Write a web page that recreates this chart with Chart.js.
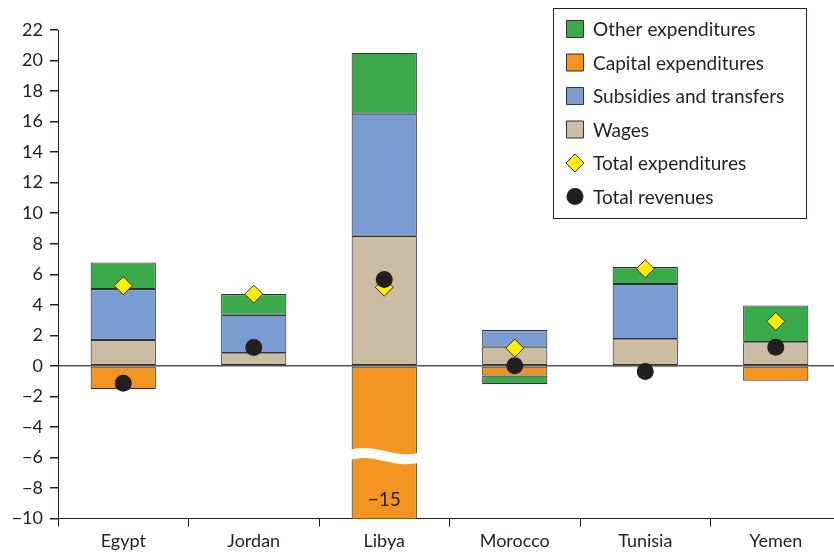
<!DOCTYPE html>
<html>
<head>
<meta charset="utf-8">
<script src="https://cdn.jsdelivr.net/npm/chart.js@4/dist/chart.umd.min.js"></script>
<style>
  html, body { margin: 0; padding: 0; background: #fff; overflow: hidden; }
  #wrap { width: 834px; height: 553px; overflow: hidden; }
</style>
</head>
<body>
<div id="wrap"><canvas id="fiscalChart" width="851" height="553"></canvas></div>
<script>
const categories = ["Egypt", "Jordan", "Libya", "Morocco", "Tunisia", "Yemen"];
const wages = [1.7, 0.83, 8.52, 1.25, 1.75, 1.55];
const subsidies = [3.33, 2.51, 8.0, 1.09, 3.61, null];
const capital = [-1.53, null, -15, -0.64, -0.1, -0.98];
const other = [1.74, 1.36, 3.98, -0.56, 1.11, 2.41];
const totalExpenditures = [5.25, 4.7, 5.15, 1.16, 6.36, 2.91];
const totalRevenues = [-1.14, 1.2, 5.66, 0.0, -0.37, 1.22];
const yTicks = [-10, -8, -6, -4, -2, 0, 2, 4, 6, 8, 10, 12, 14, 16, 18, 20, 22];

const textColor = "#231f20";
const font = "Lato";
const minus = v => String(v).replace("-", "\u2212");

// white wave across the truncated Libya bar, plus its real value
const breakValue = -5.9;
const axisBreak = {
    id: "axisBreak",
    afterDatasetsDraw(chart) {
        const ds = 2; // capital expenditures
        const i = capital.findIndex(v => v !== null && v < chart.scales.y.min);
        if (i < 0) return;
        const bar = chart.getDatasetMeta(ds).data[i];
        const { ctx } = chart;
        const y = chart.scales.y;
        const left = bar.x - bar.width / 2 - 2;
        const right = bar.x + bar.width / 2 + 2;
        const w = right - left;
        const c = y.getPixelForValue(breakValue);
        ctx.save();
        ctx.beginPath();
        ctx.rect(chart.chartArea.left, chart.chartArea.top, chart.chartArea.width, chart.chartArea.height);
        ctx.clip();
        ctx.strokeStyle = "#fff";
        ctx.lineWidth = 10;
        ctx.beginPath();
        ctx.moveTo(left, c - 1);
        ctx.bezierCurveTo(left + w * 0.4, c - 8, left + w * 0.6, c + 8, right, c + 2);
        ctx.stroke();
        ctx.fillStyle = textColor;
        ctx.font = "19px " + font;
        ctx.textAlign = "center";
        ctx.textBaseline = "middle";
        ctx.fillText(minus(capital[i]), bar.x, y.getPixelForValue(-8.8));
        ctx.restore();
    }
};

const legendOrder = [3, 2, 1, 0, 4, 5];
const boxLegend = {
    id: "boxLegend",
    afterDraw(chart) {
        const { ctx } = chart;
        ctx.save();
        ctx.fillStyle = "#fff";
        ctx.fillRect(553.5, 8.5, 253, 210);
        ctx.strokeStyle = textColor;
        ctx.lineWidth = 1;
        ctx.strokeRect(553.5, 8.5, 253, 210);
        ctx.font = "19px " + font;
        ctx.textBaseline = "middle";
        legendOrder.forEach((d, k) => {
            const ds = chart.data.datasets[d];
            const cy = 29 + k * 33.5;
            const cx = 575;
            ctx.fillStyle = ds.backgroundColor;
            ctx.strokeStyle = "#333";
            ctx.lineWidth = 1;
            ctx.beginPath();
            if (ds.pointStyle === "rectRot") {
                ctx.moveTo(cx, cy - 9);
                ctx.lineTo(cx + 9, cy);
                ctx.lineTo(cx, cy + 9);
                ctx.lineTo(cx - 9, cy);
                ctx.closePath();
                ctx.fill();
                ctx.stroke();
            } else if (ds.pointStyle === "circle") {
                ctx.arc(cx, cy, 8.5, 0, Math.PI * 2);
                ctx.fill();
            } else {
                ctx.rect(cx - 8.5, cy - 8.5, 17, 17);
                ctx.fill();
                ctx.stroke();
            }
            ctx.fillStyle = textColor;
            ctx.fillText(ds.label, 593, cy + 1);
        });
        ctx.restore();
    }
};

const barBase = {
    type: "bar",
    stack: "spend",
    order: 2,
    borderWidth: 1.1,
    borderColor: "#333",
    borderSkipped: false
};

new Chart(document.getElementById("fiscalChart"), {
    type: "bar",
    data: {
        labels: categories,
        datasets: [
            { ...barBase, label: "Wages", data: wages, backgroundColor: "#cbbca3" },
            { ...barBase, label: "Subsidies and transfers", data: subsidies, backgroundColor: "#7b9cd1" },
            { ...barBase, label: "Capital expenditures", data: capital, backgroundColor: "#f39421" },
            { ...barBase, label: "Other expenditures", data: other, backgroundColor: "#3aaa4a" },
            {
                type: "line", label: "Total expenditures", data: totalExpenditures,
                stack: "exp", order: 1, showLine: false,
                pointStyle: "rectRot", pointRadius: 9, pointBorderWidth: 1,
                backgroundColor: "#ffed00", borderColor: "#333"
            },
            {
                type: "line", label: "Total revenues", data: totalRevenues,
                stack: "rev", order: 0, showLine: false,
                pointStyle: "circle", pointRadius: 8.5, pointBorderWidth: 0,
                backgroundColor: "#231f20", borderColor: "#231f20"
            }
        ]
    },
    options: {
        responsive: false,
        animation: false,
        layout: { padding: { top: 30, right: 2, left: 0, bottom: 0 } },
        datasets: { bar: { categoryPercentage: 0.5, barPercentage: 1 } },
        plugins: {
            legend: { display: false },
            tooltip: { enabled: false }
        },
        scales: {
            x: {
                stacked: true,
                grid: {
                    offset: true, drawOnChartArea: false, tickLength: 8,
                    color: c => (c.index >= categories.length ? "transparent" : textColor)
                },
                border: { color: textColor, width: 1 },
                ticks: { color: textColor, font: { family: font, size: 18 }, padding: 4 },
                afterFit(s) { s.height = 34.5; }
            },
            y: {
                stacked: true,
                min: -10,
                max: 22,
                afterBuildTicks(s) { s.ticks = yTicks.map(v => ({ value: v })); },
                grid: {
                    tickLength: 8,
                    tickColor: textColor,
                    lineWidth: 1.5,
                    color: c => (c.tick && c.tick.value === 0 ? "#555" : "transparent")
                },
                border: { color: textColor, width: 1 },
                ticks: {
                    color: textColor, font: { family: font, size: 18 }, padding: 7,
                    callback: v => minus(v)
                },
                afterFit(s) { s.width = 58; }
            }
        }
    },
    plugins: [axisBreak, boxLegend]
});
</script>
</body>
</html>
